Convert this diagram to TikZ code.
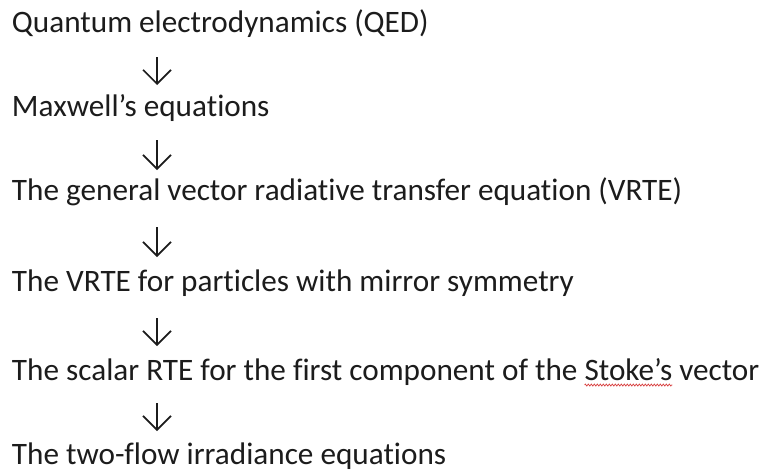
\documentclass[tikz,border=0pt]{standalone}
\usepackage{fontspec}
\setmainfont{Carlito}[Ligatures=NoCommon]
\usetikzlibrary{arrows.meta,decorations.pathmorphing}
\definecolor{ink}{HTML}{1C1C1C}
\definecolor{squig}{HTML}{D84040}
\begin{document}
\begin{tikzpicture}[x=1pt,y=-1pt,
  txt/.style={anchor=base west, inner sep=0pt, outer sep=0pt, text=ink,
    font=\fontsize{31.2}{36}\selectfont},
  flow/.style={draw=ink, line width=1.6pt,
    -{Straight Barb[length=14pt,width=28pt,line width=1.6pt]}}]
\fill[white] (0,0) rectangle (767,474);
\useasboundingbox (0,0) rectangle (767,474);
\node[txt] (l1) at (12,32) {Quantum electrodynamics (QED)};
\node[txt] (l2) at (12,116) {Maxwell’s equations};
\node[txt] (l3) at (12,200) {The general vector radiative transfer equation (VRTE)};
\node[txt] (l4) at (12,291) {The VRTE for particles with mirror symmetry};
\node[txt] (l5a) at (12,380) {The scalar RTE for the first component of the};
\node[txt, xshift=7pt] (l5b) at (l5a.base east) {Stoke’s};
\node[txt, xshift=7pt] (l5c) at (l5b.base east) {vector};
\node[txt] (l6) at (12,464) {The two-flow irradiance equations};
\draw[flow] ([shift={(145,25)}]l1.base west) -- ++(0,28);
\draw[flow] ([shift={(145,24)}]l2.base west) -- ++(0,30);
\draw[flow] ([shift={(145,27)}]l3.base west) -- ++(0,30);
\draw[flow] ([shift={(145,27)}]l4.base west) -- ++(0,28);
\draw[flow] ([shift={(145,23)}]l5a.base west) -- ++(0,28);
\draw[squig, line width=0.7pt, decorate,
  decoration={zigzag, segment length=3pt, amplitude=1pt}]
  ([yshift=-5pt]l5b.base west) -- ([yshift=-5pt]l5b.base east);
\end{tikzpicture}
\end{document}
